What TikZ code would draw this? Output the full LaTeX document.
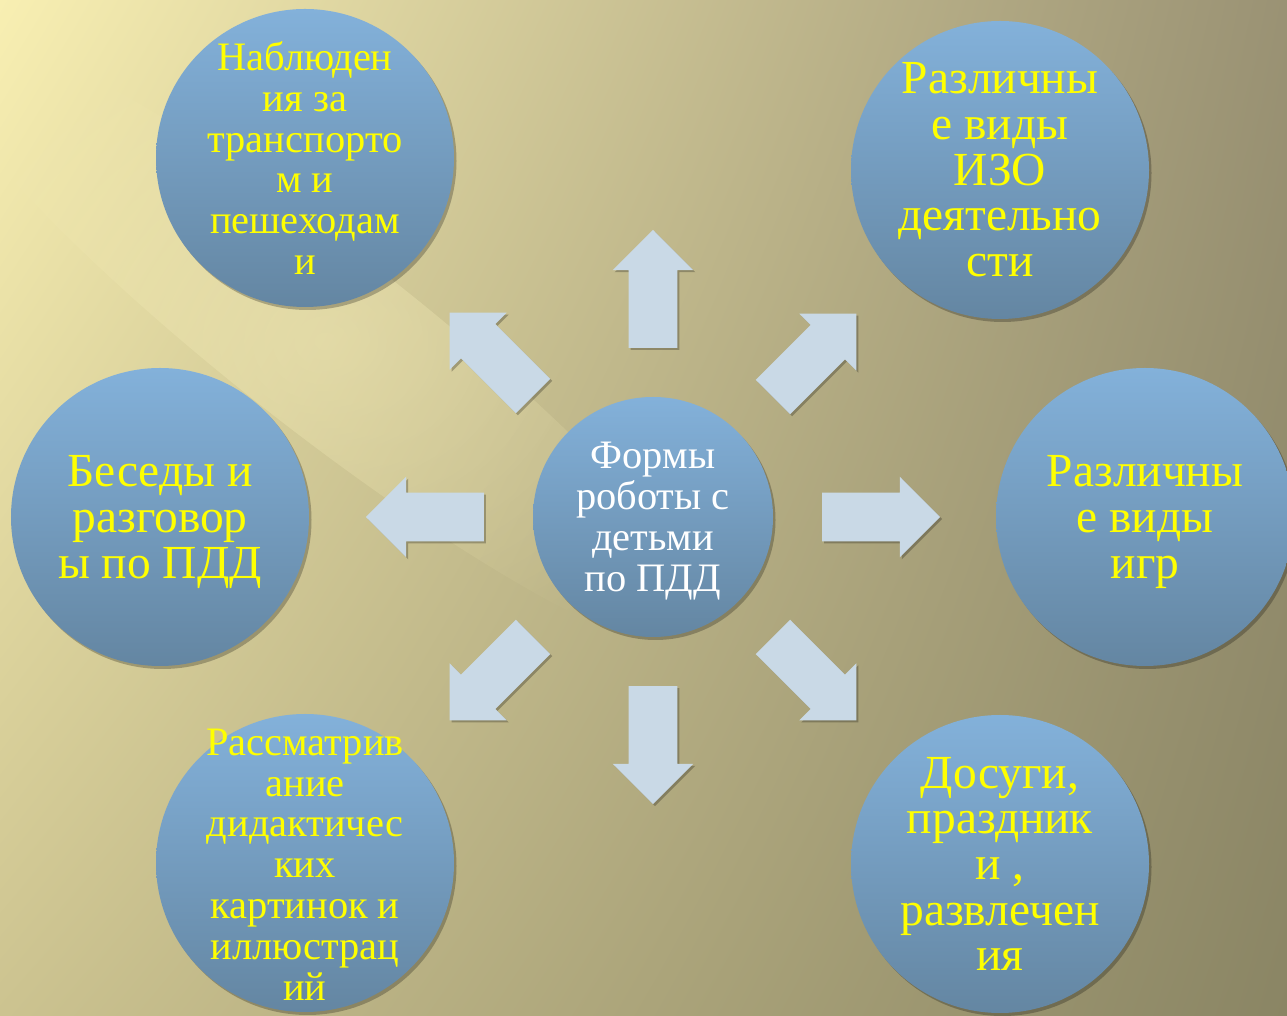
\documentclass[tikz,border=0pt]{standalone}
\usepackage{fontspec}
\setmainfont{Liberation Serif}
\usetikzlibrary{shapes.arrows,shadows,shadings,fadings}

\definecolor{bgTL}{RGB}{248,239,178}
\definecolor{bgTR}{RGB}{154,146,116}
\definecolor{bgBL}{RGB}{204,195,144}
\definecolor{bgBR}{RGB}{138,133,100}
\definecolor{bgStreak}{RGB}{248,240,188}
\definecolor{bubbleTop}{RGB}{131,177,218}
\definecolor{bubbleBot}{RGB}{100,134,162}
\definecolor{arrowBlue}{RGB}{201,217,230}
\definecolor{labelYellow}{RGB}{255,255,0}

\tikzfading[name=streakfade, inner color=transparent!0, outer color=transparent!100]

\begin{document}
\begin{tikzpicture}[
		bubble/.style={circle, minimum size=5.96cm, inner sep=0pt,
			top color=bubbleTop, bottom color=bubbleBot,
			drop shadow={shadow xshift=0.05cm, shadow yshift=-0.06cm, opacity=0.25, fill=black}},
		hub/.style={bubble, minimum size=4.8cm},
		bigtext/.style={align=center, text=labelYellow, font=\fontsize{27}{26}\selectfont, inner sep=0pt},
		smalltext/.style={align=center, text=labelYellow, font=\fontsize{23}{23.2}\selectfont, inner sep=0pt},
		hubtext/.style={smalltext, text=white},
		blockarrow/.style={single arrow, fill=arrowBlue, inner xsep=0pt, inner ysep=0.48cm,
			minimum height=2.36cm, minimum width=1.6cm,
			single arrow head extend=0.32cm, single arrow tip angle=90,
			drop shadow={shadow xshift=0.04cm, shadow yshift=-0.04cm, opacity=0.25, fill=black}}
	]
	% Background
	\useasboundingbox (0,0) rectangle (25.74,20.32);
	\shade[upper left=bgTL, upper right=bgTR, lower left=bgBL, lower right=bgBR] (0,0) rectangle (25.74,20.32);
	\fill[bgStreak, path fading=streakfade, fill opacity=0.4, rotate around={-38:(6.5,13.5)}] (6.5,13.5) ellipse (10 and 1.8);

	% Arrows
	\node[blockarrow, rotate=90] (arrN) at (13.06,14.30) {};
	\node[blockarrow, rotate=45] (arrNE) at (16.12,13.04) {};
	\node[blockarrow, rotate=0] (arrE) at (17.38,9.98) {};
	\node[blockarrow, rotate=-45] (arrSE) at (16.12,6.92) {};
	\node[blockarrow, rotate=-90] (arrS) at (13.06,5.66) {};
	\node[blockarrow, rotate=-135] (arrSW) at (10.00,6.92) {};
	\node[blockarrow, rotate=180] (arrW) at (8.74,9.98) {};
	\node[blockarrow, rotate=135] (arrNW) at (10.00,13.06) {};

	% Circles
	\node[hub] (forms) at (13.06,9.98) {};
	\node[bubble] (watch) at (6.10,17.16) {};
	\node[bubble] (art) at (20.00,16.92) {};
	\node[bubble] (talk) at (3.20,9.98) {};
	\node[bubble] (games) at (22.90,9.98) {};
	\node[bubble] (pics) at (6.10,3.06) {};
	\node[bubble] (fest) at (20.00,3.04) {};

	% Labels
	\node[hubtext, yshift=-0.08cm] (formsText) at (forms) {Формы\\роботы с\\детьми\\по ПДД};
	\node[smalltext] (watchText) at (watch) {Наблюден\\ия за\\транспорто\\м и\\пешеходам\\и};
	\node[bigtext] (artText) at (art) {Различны\\е виды\\ИЗО\\деятельно\\сти};
	\node[bigtext, yshift=-0.1cm] (talkText) at (talk) {Беседы и\\разговор\\ы по ПДД};
	\node[bigtext, yshift=-0.1cm] (gamesText) at (games) {Различны\\е виды\\игр};
	\node[smalltext, yshift=-0.03cm] (picsText) at (pics) {Рассматрив\\ание\\дидактичес\\ких\\картинок и\\иллюстрац\\ий};
	\node[bigtext] (festText) at (fest) {Досуги,\\праздник\\и ,\\развлечен\\ия};
\end{tikzpicture}
\end{document}
